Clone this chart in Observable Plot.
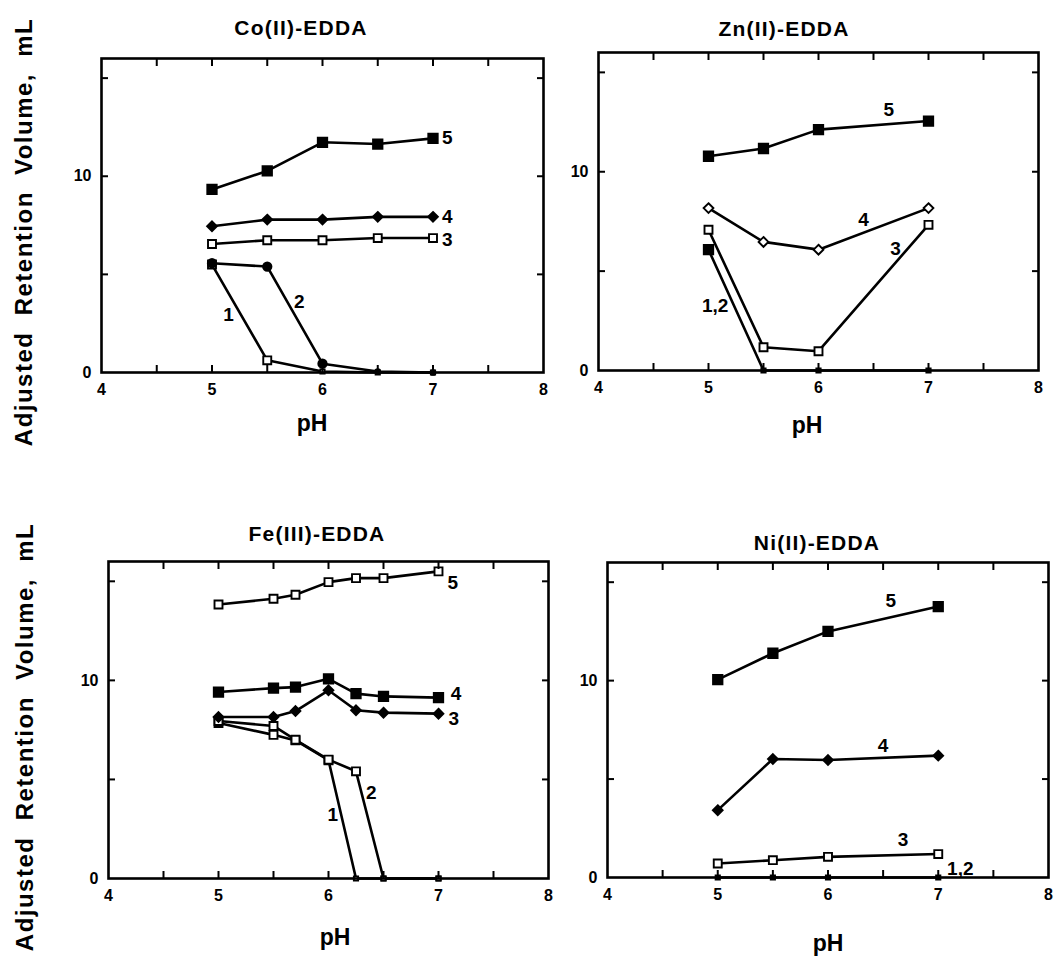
<!DOCTYPE html>
<html><head><meta charset="utf-8">
<script src="https://cdn.jsdelivr.net/npm/d3@7"></script>
<script src="https://cdn.jsdelivr.net/npm/@observablehq/plot@0.6"></script>
<style>
body{margin:0;background:#fff;}
#wrap{position:relative;width:1063px;height:958px;overflow:hidden;font-family:"Liberation Sans",Arial,sans-serif;font-weight:bold;color:#000;background:#fff;}
.t{position:absolute;white-space:nowrap;transform:translate(-50%,-50%);line-height:1;}
.title{font-size:21px;letter-spacing:1.2px;}
.xl{font-size:23px;}
.yl{font-size:24px;letter-spacing:1.5px;word-spacing:8px;transform:translate(-50%,-50%) rotate(-90deg);}
.p{position:absolute;}
</style></head><body><div id="wrap"></div>
<script>
// ---------- data (pH vs adjusted retention volume, mL) ----------
const coPH = [5, 5.5, 6, 6.5, 7];
const co1 = [5.5, 0.62, 0.05, 0, 0];
const co2 = [5.57, 5.4, 0.45, 0.05, 0];
const co3 = [6.55, 6.74, 6.74, 6.85, 6.85];
const co4 = [7.45, 7.79, 7.79, 7.93, 7.93];
const co5 = [9.33, 10.27, 11.73, 11.64, 11.93];
const coLabText = ["5", "4", "3", "1", "2"];
const coLabX = [7.13, 7.13, 7.13, 5.15, 5.79];
const coLabY = [11.95, 7.95, 6.77, 2.92, 3.6];

const znPH = [5, 5.5, 6, 7];
const zn12 = [6.08, 0, 0, 0];
const zn3 = [7.08, 1.17, 0.97, 7.33];
const zn4 = [8.17, 6.47, 6.08, 8.17];
const zn5 = [10.78, 11.17, 12.12, 12.55];
const znLabText = ["5", "4", "3", "1,2"];
const znLabX = [6.64, 6.41, 6.7, 5.06];
const znLabY = [13.1, 7.6, 6.1, 3.25];

const fePH = [5, 5.5, 5.7, 6, 6.25, 6.5, 7];
const fe1 = [7.85, 7.25, 6.97, 5.97, 0, 0, 0];
const fe2 = [7.95, 7.7, 7.0, 6.0, 5.41, 0, 0];
const fe3 = [8.15, 8.15, 8.45, 9.5, 8.49, 8.37, 8.32];
const fe4 = [9.41, 9.61, 9.66, 10.08, 9.33, 9.19, 9.13];
const fe5 = [13.83, 14.12, 14.32, 14.96, 15.16, 15.16, 15.5];
const feLabText = ["5", "4", "3", "1", "2"];
const feLabX = [7.13, 7.16, 7.14, 6.04, 6.39];
const feLabY = [14.9, 9.3, 8.07, 3.2, 4.3];

const niPH = [5, 5.5, 6, 7];
const ni12 = [0, 0, 0, 0];
const ni3 = [0.71, 0.88, 1.05, 1.19];
const ni4 = [3.42, 6.02, 5.97, 6.19];
const ni5 = [10.05, 11.39, 12.5, 13.76];
const niLabText = ["5", "4", "3", "1,2"];
const niLabX = [6.57, 6.5, 6.68, 7.2];
const niLabY = [14.05, 6.7, 1.9, 0.45];

const xLabelTicks = [4, 5, 6, 7, 8];
const xMinorTicks = [4.5, 5, 5.5, 6, 6.5, 7, 7.5];
const yLabelTicks = [0, 10];
const yMinorTicks = [5, 10, 15];

// ---------- marker styles ----------
const openSq = {symbol: "square", fill: "white", r: 4.5};
const fillSq = {symbol: "square", fill: "black", r: 5.3};
const fillDia = {symbol: "diamond2", fill: "black", r: 4.4};
const openDia = {symbol: "diamond2", fill: "white", r: 4.4};
const fillCirc = {symbol: "circle", fill: "black", r: 4.2};
const tinySq = {symbol: "square", fill: "black", r: 2.6};

const panels = [
  {title: "Co(II)-EDDA", L: 101, R: 543, T: 58, B: 372, ph: coPH,
   series: [[co1, openSq], [co2, fillCirc], [co3, openSq], [co4, fillDia], [co5, fillSq]],
   lab: [coLabText, coLabX, coLabY], titleXY: [301, 27], xlXY: [312, 423]},
  {title: "Zn(II)-EDDA", L: 598, R: 1038, T: 52, B: 370, ph: znPH,
   series: [[zn12, fillSq], [zn3, openSq], [zn4, openDia], [zn5, fillSq]],
   lab: [znLabText, znLabX, znLabY], titleXY: [784, 28], xlXY: [807, 425]},
  {title: "Fe(III)-EDDA", L: 108, R: 548, T: 561, B: 878, ph: fePH,
   series: [[fe1, openSq], [fe2, openSq], [fe3, fillDia], [fe4, fillSq], [fe5, openSq]],
   lab: [feLabText, feLabX, feLabY], titleXY: [317, 533], xlXY: [335, 937]},
  {title: "Ni(II)-EDDA", L: 607, R: 1048, T: 562, B: 877, ph: niPH,
   series: [[ni12, tinySq], [ni3, openSq], [ni4, fillDia], [ni5, fillSq]],
   lab: [niLabText, niLabX, niLabY], titleXY: [817, 542], xlXY: [828, 943]}
];

const wrap = document.getElementById("wrap");
const ml = 60, mr = 12, mt = 12, mb = 34;

function addText(cls, txt, x, y) {
  const d = document.createElement("div");
  d.className = "t " + cls;
  d.textContent = txt;
  d.style.left = x + "px";
  d.style.top = y + "px";
  wrap.appendChild(d);
}

for (const p of panels) {
  const marks = [];
  for (const [vals, st] of p.series) {
    const d = vals.map((v, i) => ({pH: p.ph[i], v}));
    marks.push(Plot.line(d, {x: "pH", y: "v", stroke: "black", strokeWidth: 2.6}));
  }
  for (const [vals, st] of p.series) {
    const d = vals.map((v, i) => ({pH: p.ph[i], v}));
    // points lying on the baseline are drawn as small ticks, as in the original
    marks.push(Plot.dot(d, {x: "pH", y: "v", symbol: st.symbol, fill: st.fill,
      r: (q) => (q.v < 0.1 ? 2.4 : st.r), stroke: "black", strokeWidth: 1.9}));
  }
  const [lt, lx, ly] = p.lab;
  const labs = lt.map((t, i) => ({t, x: lx[i], y: ly[i]}));
  marks.push(Plot.text(labs, {x: "x", y: "y", text: "t", fontSize: 19, fontWeight: "bold", fill: "black"}));
  marks.push(
    Plot.axisX({anchor: "bottom", ticks: xLabelTicks, tickFormat: (d) => String(d), tickSize: 0, tickPadding: 11, label: null, fontSize: 16}),
    Plot.axisX({anchor: "bottom", ticks: xMinorTicks, tickSize: -7, tickFormat: () => "", strokeWidth: 2, label: null}),
    Plot.axisX({anchor: "top", ticks: xMinorTicks, tickSize: -7, tickFormat: () => "", strokeWidth: 2, label: null}),
    Plot.axisY({anchor: "left", ticks: yLabelTicks, tickFormat: (d) => String(d), tickSize: 0, tickPadding: 10, label: null, fontSize: 16}),
    Plot.axisY({anchor: "left", ticks: yMinorTicks, tickSize: -7, tickFormat: () => "", strokeWidth: 2, label: null}),
    Plot.axisY({anchor: "right", ticks: yMinorTicks, tickSize: -7, tickFormat: () => "", strokeWidth: 2, label: null}),
    Plot.frame({stroke: "black", strokeWidth: 2.6})
  );
  const w = p.R - p.L + ml + mr, h = p.B - p.T + mt + mb;
  const svg = Plot.plot({
    width: w, height: h,
    marginLeft: ml, marginRight: mr, marginTop: mt, marginBottom: mb,
    x: {domain: [4, 8]},
    y: {domain: [0, 16], r: undefined},
    r: {type: "identity"},
    style: {fontFamily: "'Liberation Sans', Arial, sans-serif", fontSize: "16px", fontWeight: "bold",
            background: "transparent", overflow: "visible", maxWidth: "none", color: "black"},
    marks
  });
  svg.classList.add("p");
  svg.style.left = (p.L - ml) + "px";
  svg.style.top = (p.T - mt) + "px";
  wrap.appendChild(svg);
  addText("title", p.title, p.titleXY[0], p.titleXY[1]);
  addText("xl", "pH", p.xlXY[0], p.xlXY[1]);
}
addText("yl", "Adjusted Retention Volume, mL", 24, 232);
addText("yl", "Adjusted Retention Volume, mL", 25, 737);
</script></body></html>
